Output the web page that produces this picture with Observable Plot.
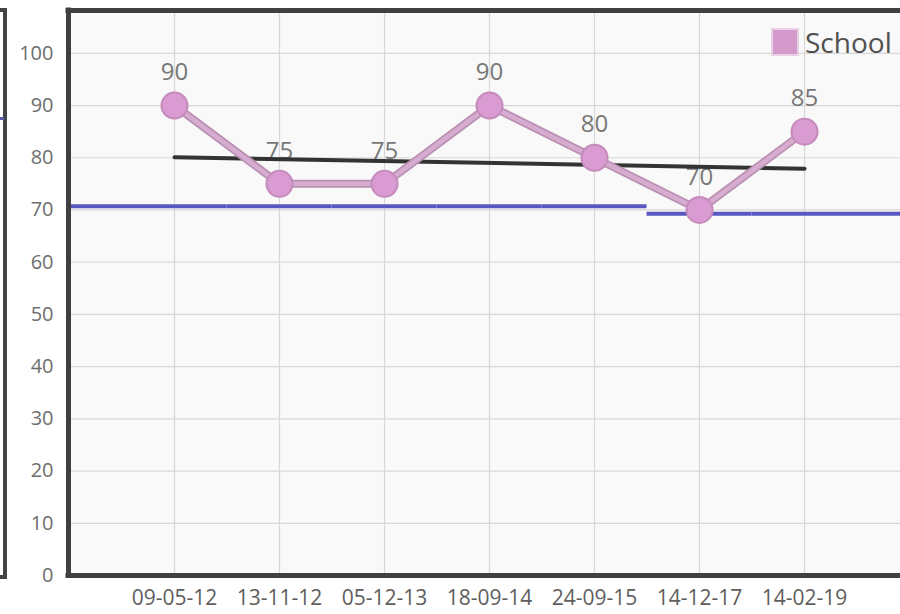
<!DOCTYPE html>
<html><head><meta charset="utf-8">
<script src="https://cdn.jsdelivr.net/npm/d3@7"></script>
<script src="https://cdn.jsdelivr.net/npm/@observablehq/plot@0.6"></script>
<style>
body{margin:0;background:#fff;font-family:"Open Sans",sans-serif;}
#wrap{position:relative;width:900px;height:614px;overflow:hidden;}
#wrap svg{display:block;}
#side{position:absolute;left:-7px;top:8px;width:10px;height:563px;border:4px solid #444;border-left:none;}
#sidetick{position:absolute;left:0;top:117px;width:4px;height:3px;background:#5a5aa8;}
#legend{position:absolute;left:771px;top:28px;display:flex;align-items:center;font-size:28px;color:#505050;line-height:1;}
#legend .sw{width:24px;height:24px;background:#d49acb;border:2px solid #ead0e4;margin-right:6px;box-sizing:content-box;}
</style>
</head><body>
<div id="wrap">
  <div id="side"></div><div id="sidetick"></div>
  <div id="chart"></div>
  <div id="legend"><span class="sw"></span><span>School</span></div>
</div>
<script>
const dates = ["09-05-12","13-11-12","05-12-13","18-09-14","24-09-15","14-12-17","14-02-19"];
const school = [90,75,75,90,80,70,85];
const trendEnds = [80.1, 77.9];           // trend line value at first and last date
const average = [70.7,70.7,70.7,70.7,70.7,69.3,69.3];
const yTicks = [0,10,20,30,40,50,60,70,80,90,100];

const idx = dates.map((d,i)=>i);
const pts = dates.map((d,i)=>({i, date:d, v:school[i]}));
const trend = [{i:0, v:trendEnds[0]},{i:dates.length-1, v:trendEnds[1]}];
const X0 = -1.0095, X1 = 6.914, YMAX = 108.2;
const avgSegs = average.map((v,i)=>({x1: i===0 ? X0 : i-0.5, x2: i===average.length-1 ? X1 : i+0.5, v}));

const chart = Plot.plot({
  width:900, height:614, marginLeft:68, marginRight:0, marginTop:10, marginBottom:39,
  style:{fontFamily:"Open Sans", background:"transparent", overflow:"visible"},
  x:{type:"linear", domain:[X0,X1], axis:null, label:null},
  y:{domain:[0,YMAX], axis:null, label:null},
  marks:[
    Plot.frame({fill:"#f9f9f9", stroke:"none"}),
    Plot.ruleY(yTicks.slice(1), {stroke:"#d8d8d8", strokeWidth:1.2}),
    Plot.ruleX(idx, {y1:0, y2:YMAX, stroke:"#d8d8d8", strokeWidth:1.2}),
    Plot.axisY(yTicks, {tickSize:0, tickPadding:15, fontSize:20, color:"#6e6e6e", label:null}),
    Plot.axisX(idx, {tickSize:0, tickPadding:15, fontSize:21, color:"#5e5e5e", label:null, tickFormat:i=>dates[i]}),
    Plot.ruleY(avgSegs, {y:"v", x1:"x1", x2:"x2", stroke:"#5858c0", strokeWidth:4}),
    Plot.text(pts, {x:"i", y:"v", text:d=>String(d.v), dy:-33, fontSize:24, fill:"#777"}),
    Plot.line(trend, {x:"i", y:"v", stroke:"#333", strokeWidth:4}),
    Plot.line(pts, {x:"i", y:"v", stroke:"#bb8fb4", strokeWidth:8}),
    Plot.line(pts, {x:"i", y:"v", stroke:"#d6adcf", strokeWidth:4.5}),
    Plot.dot(pts, {x:"i", y:"v", r:13, fill:"#d99bd1", stroke:"#c48bbb", strokeWidth:2}),
    Plot.ruleX([X0], {y1:0, y2:YMAX, stroke:"#404040", strokeWidth:5, strokeLinecap:"square"}),
    Plot.ruleY([0, YMAX], {stroke:"#404040", strokeWidth:5, strokeLinecap:"square"})
  ]
});
document.getElementById("chart").appendChild(chart);
</script>
</body></html>
